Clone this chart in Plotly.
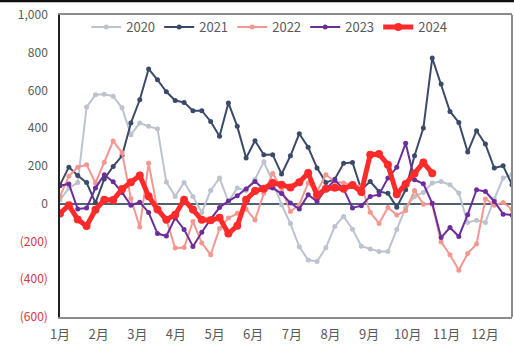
import plotly.graph_objects as go

weeks = list(range(52))
month_labels = ["1月", "2月", "3月", "4月", "5月", "6月", "7月", "8月", "9月", "10月", "11月", "12月"]

y2020 = [21, 83, 112, 512, 578, 580, 570, 508, 366, 428, 410, 397, 115, 39, 113, 39, -46, 70, 136, 12,
         83, 70, 130, 222, 118, -5, -105, -228, -298, -306, -233, -120, -67, -135, -225, -240, -253, -253,
         -136, -20, 39, 60, 110, 118, 101, 57, -99, -88, -99, 25, 136, 154]
y2021 = [100, 194, 150, 112, 5, 131, 198, 254, 428, 551, 714, 657, 593, 547, 537, 493, 493, 436, 358, 534,
         410, 242, 334, 260, 260, 157, 254, 371, 299, 190, 112, 130, 214, 219, 74, 118, 65, 55, -18, 74,
         254, 401, 772, 634, 489, 431, 274, 387, 316, 189, 201, 101]
y2022 = [39, 146, 194, 207, 110, 220, 332, 270, 28, -123, 214, -32, -85, -235, -232, -94, -208, -270, -131, -76,
         -50, -28, -86, 55, 160, 80, -41, -5, 110, 65, 154, 118, 110, 101, 92, -45, -104, -20, -60, -36,
         70, -3, -3, -203, -270, -352, -263, -213, 25, -8, 7, -30]
y2023 = [95, 105, -28, -23, 83, 154, 116, 60, -8, 8, -46, -158, -171, -75, -136, -226, -151, -81, -20, 14,
         42, 78, 118, 78, 83, 54, 4, -28, 48, 12, 78, 125, 78, -22, -10, 39, 48, 136, 193, 320,
         127, 106, 2, -179, -126, -173, -58, 74, 65, 12, -55, -60]
y2024 = [-51, -8, -83, -118, -32, 21, 20, 78, 114, 150, 40, -30, -85, -58, 21, -30, -85, -88, -74, -158,
         -117, 21, 68, 80, 110, 101, 86, 114, 163, 45, 80, 85, 80, 99, 62, 260, 263, 207, 50, 105,
         160, 218, 162]

series = [
    ("2020", y2020, "#BCC3CE", 2, 5),
    ("2021", y2021, "#3B4A68", 2, 5),
    ("2022", y2022, "#F39790", 2, 5),
    ("2023", y2023, "#6B2D9B", 2, 5),
    ("2024", y2024, "#FF2B2B", 5, 8),
]

fig = go.Figure()
for name, ys, color, lw, ms in series:
    fig.add_trace(go.Scatter(
        x=weeks[:len(ys)], y=ys, name=name, mode="lines+markers",
        line=dict(color=color, width=lw), marker=dict(color=color, size=ms),
    ))

yvals = list(range(-600, 1001, 200))
ytext = []
for v in yvals:
    if v < 0:
        ytext.append('<span style="color:#D9363E">(%d)</span>' % (-v))
    else:
        ytext.append(f"{v:,}")

fig.update_layout(
    width=514, height=345,
    margin=dict(l=60, r=2, t=15, b=28),
    paper_bgcolor="white", plot_bgcolor="white",
    font=dict(family="Noto Sans CJK SC, Open Sans, sans-serif", size=12, color="#595959"),
    hovermode=False,
    showlegend=True,
    legend=dict(orientation="h", x=0.058, y=0.96, xanchor="left", yanchor="middle",
                bgcolor="rgba(0,0,0,0)", font=dict(size=13, color="#595959"),
                entrywidth=28, entrywidthmode="pixels", itemwidth=30, tracegroupgap=0),
    xaxis=dict(range=[0, 51], tickvals=[i * 4.36 for i in range(12)], ticktext=month_labels,
               showgrid=False, zeroline=False, showline=True, linecolor="#8C8C8C", linewidth=2,
               mirror=True, ticks="outside", ticklen=4, tickcolor="rgba(0,0,0,0)",
               tickfont=dict(size=13), automargin=False),
    yaxis=dict(range=[-600, 1000], tickvals=yvals, ticktext=ytext, showgrid=False,
               zeroline=True, zerolinecolor="#4E6274", zerolinewidth=1.5,
               showline=True, linecolor="#222222", linewidth=1.5,
               ticks="outside", ticklen=8, tickcolor="rgba(0,0,0,0)", tickfont=dict(size=12),
               automargin=False),
    shapes=[
        dict(type="line", xref="paper", yref="paper", x0=1, x1=1, y0=0, y1=1,
             line=dict(color="#8C8C8C", width=2)),
        dict(type="line", xref="paper", yref="paper", x0=-0.2, x1=1.2, y0=1.047, y1=1.047,
             line=dict(color="#111111", width=3)),
    ],
)

# drop the browser's default 8px body margin so the figure fills the window
fig.write_html("out.html", config={"displayModeBar": False},
               post_script="document.body.style.margin = '0';")
